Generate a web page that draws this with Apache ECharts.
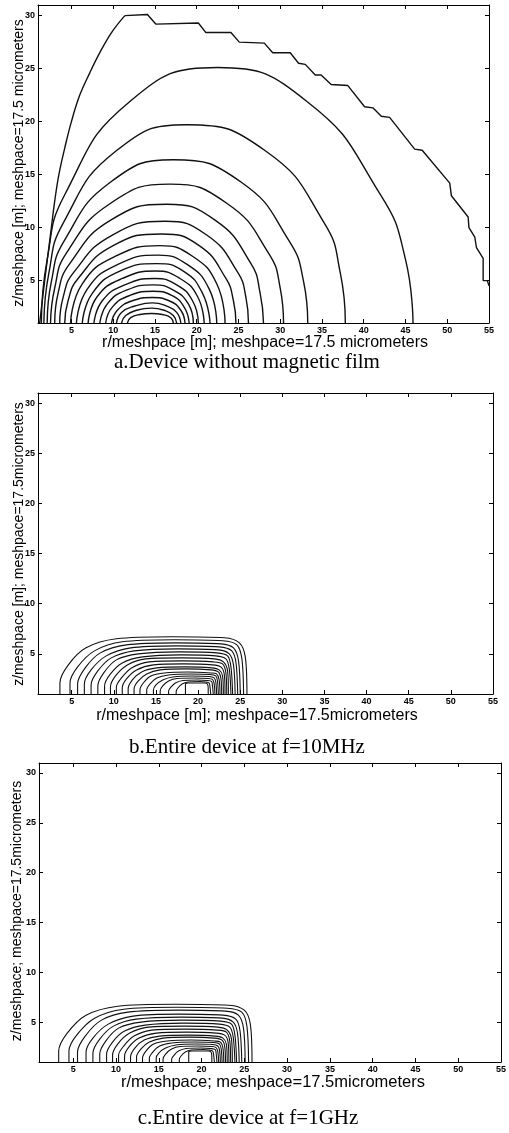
<!DOCTYPE html>
<html>
<head>
<meta charset="utf-8">
<script src="https://cdn.jsdelivr.net/npm/echarts@6/dist/echarts.min.js"></script>
<style>
  html, body { margin: 0; background: #fff; }
  #main { width: 509px; height: 1133px; }
</style>
</head>
<body>
<div id="main"></div>
<script>
// tick values shared by the three panels
var rTicks = [5, 10, 15, 20, 25, 30, 35, 40, 45, 50, 55];
var zTicks = [5, 10, 15, 20, 25, 30];

// a. device without magnetic film: outer line = smooth rise + staircase
var outerRiseA = [[1.2,1],[1.5,3],[1.8,5],[2.2,7.5],[2.6,10],[3.0,12.5],[3.5,15],[4.2,17.5],[5.0,20],[6.0,22.5],[7.2,24.6],[8.4,26.5],[9.8,28.4],[11.4,30]];
var outerStairA = [[11.4,30],[14.1,30.1],[15.1,29.2],[20.2,29.3],[21.1,28.4],[24.1,28.4],[25.1,27.5],[28.1,27.4],[29.1,26.5],[31.2,26.5],[32.2,25.5],[33.0,25.4],
  [34.2,24.4],[34.9,24.4],[36.1,23.5],[38.1,23.4],[40.1,21.4],[41.1,21.3],[42.1,20.5],[43.1,20.4],[46.1,17.4],[47.0,17.3],[50.3,14.2],
  [50.5,13.0],[52.5,11.0],[52.6,10.0],[53.3,9.1],[53.5,8.1],[54.3,7.1],[54.3,5.0],[54.8,5.0],[55,4.5]];

// inner contour lines of a, outer first
var contoursA = [
  [[1.4,1],[2.1,7.0],[4.2,13.1],[12.0,21.9],[22.5,25.1],[33.2,21.9],[42.0,13.1],[45.0,7.0],[45.9,1]],
  [[1.7,1],[2.3,5.7],[4.0,10.4],[10.3,17.2],[18.8,19.7],[28.3,17.2],[35.3,10.4],[37.2,5.7],[37.8,1]],
  [[2.1,1],[2.6,4.9],[4.1,8.7],[9.7,14.3],[17.2,16.4],[25.3,14.3],[31.1,8.7],[32.8,4.9],[33.3,1]],
  [[2.5,1],[3.0,4.3],[4.4,7.6],[9.7,12.3],[16.8,14.1],[23.6,12.3],[28.6,7.6],[30.0,4.3],[30.4,1]],
  [[3.0,1],[3.4,3.8],[4.8,6.6],[9.7,10.7],[16.4,12.2],[22.2,10.7],[26.5,6.6],[27.6,3.8],[28.0,1]],
  [[3.6,1],[4.0,3.4],[5.3,5.8],[9.9,9.3],[16.2,10.6],[21.2,9.3],[24.9,5.8],[25.9,3.4],[26.2,1]],
  [[4.2,1],[4.6,3.1],[5.8,5.2],[10.0,8.3],[15.8,9.4],[20.3,8.3],[23.5,5.2],[24.4,3.1],[24.7,1]],
  [[4.9,1],[6.3,4.7],[10.3,7.3],[15.6,8.3],[19.5,7.3],[22.4,4.7],[23.4,1]],
  [[5.6,1],[6.9,4.2],[10.5,6.5],[15.4,7.4],[18.9,6.5],[21.5,4.2],[22.4,1]],
  [[6.3,1],[7.5,3.8],[10.8,5.9],[15.2,6.6],[18.4,5.9],[20.7,3.8],[21.6,1]],
  [[7.0,1],[8.1,3.5],[11.1,5.2],[15.1,5.9],[18.0,5.2],[20.1,3.5],[20.9,1]],
  [[7.7,1],[8.7,3.1],[11.4,4.6],[15.0,5.2],[17.6,4.6],[19.5,3.1],[20.2,1]],
  [[8.4,1],[9.3,2.8],[11.6,4.1],[14.8,4.6],[17.2,4.1],[19.0,2.8],[19.6,1]],
  [[9.1,1],[9.9,2.5],[12.0,3.6],[14.8,4.0],[17.0,3.6],[18.5,2.5],[19.1,1]],
  [[9.8,1],[10.5,2.2],[12.3,3.1],[14.7,3.4],[16.7,3.1],[18.1,2.2],[18.6,1]],
  [[10.4,1],[11.0,2.0],[12.6,2.6],[14.7,2.9],[16.4,2.6],[17.6,2.0],[18.1,1]],
  [[11.0,1],[11.5,1.7],[12.8,2.2],[14.6,2.4],[16.1,2.2],[17.2,1.7],[17.6,1]],
  [[11.7,1],[12.1,1.5],[13.2,1.8],[14.6,1.9],[15.9,1.8],[16.9,1.5],[17.2,1]]
];

// b. entire device at f=10MHz
var contoursB = [
  [[3.6,1],[3.6,2.1],[4.6,3.9],[6.7,5.6],[10.3,6.5],[16.9,6.7],[23.1,6.6],[24.9,6.1],[25.6,4.7],[25.8,1]],
  [[4.8,1],[4.8,2.1],[5.7,3.7],[7.7,5.3],[11.0,6.2],[17.2,6.4],[22.9,6.3],[24.6,5.9],[25.2,4.5],[25.4,1]],
  [[5.7,1],[5.7,2.0],[6.6,3.6],[8.4,5.1],[11.5,5.9],[17.3,6.1],[22.7,6.0],[24.2,5.6],[24.8,4.3],[25.0,1]],
  [[6.5,1],[6.5,2.0],[7.3,3.4],[9.1,4.8],[12.0,5.6],[17.4,5.8],[22.5,5.7],[24.0,5.3],[24.5,4.1],[24.7,1]],
  [[7.3,1],[7.3,1.9],[8.1,3.3],[9.7,4.6],[12.4,5.3],[17.6,5.5],[22.4,5.4],[23.7,5.0],[24.2,3.9],[24.4,1]],
  [[8.1,1],[8.1,1.8],[8.8,3.1],[10.3,4.4],[12.9,5.0],[17.7,5.2],[22.2,5.1],[23.5,4.8],[23.9,3.7],[24.1,1]],
  [[8.9,1],[8.9,1.8],[9.6,3.0],[11.0,4.1],[13.4,4.7],[17.9,4.9],[22.1,4.8],[23.3,4.5],[23.7,3.5],[23.9,1]],
  [[9.6,1],[9.6,1.7],[10.2,2.8],[11.6,3.9],[13.8,4.5],[18.0,4.6],[21.9,4.5],[23.0,4.2],[23.5,3.3],[23.6,1]],
  [[10.3,1],[10.3,1.7],[10.9,2.6],[12.1,3.6],[14.2,4.2],[18.2,4.3],[21.8,4.2],[22.9,4.0],[23.3,3.1],[23.4,1]],
  [[11.0,1],[11.0,1.6],[11.5,2.5],[12.7,3.4],[14.7,3.9],[18.3,4.0],[21.7,3.9],[22.7,3.7],[23.1,3.0],[23.2,1]],
  [[11.7,1],[11.7,1.5],[12.2,2.4],[13.3,3.2],[15.1,3.6],[18.5,3.7],[21.6,3.6],[22.5,3.4],[22.9,2.8],[23.0,1]],
  [[12.4,1],[12.4,1.5],[12.9,2.3],[13.9,3.0],[15.5,3.4],[18.6,3.5],[21.5,3.4],[22.4,3.2],[22.7,2.6],[22.8,1]],
  [[13.1,1],[13.1,1.4],[13.5,2.1],[14.4,2.8],[16.0,3.1],[18.8,3.2],[21.5,3.1],[22.2,3.0],[22.5,2.4],[22.6,1]],
  [[13.9,1],[13.9,1.4],[14.3,2.0],[15.1,2.6],[16.5,2.9],[19.1,3.0],[21.4,2.95],[22.1,2.8],[22.3,2.3],[22.4,1]],
  [[14.7,1],[14.7,1.4],[15.0,1.9],[15.8,2.4],[17.0,2.7],[19.3,2.8],[21.3,2.75],[21.9,2.6],[22.1,2.2],[22.2,1]],
  [[15.5,1],[15.5,1.3],[15.8,1.8],[16.5,2.3],[17.5,2.55],[19.6,2.6],[21.2,2.55],[21.7,2.45],[21.9,2.05],[22.0,1]],
  [[16.5,1],[16.5,1.3],[16.8,1.7],[17.3,2.1],[18.2,2.35],[19.9,2.4],[21.1,2.35],[21.6,2.25],[21.7,1.9],[21.8,1]],
  [[17.4,1],[17.4,1.25],[17.6,1.6],[18.1,2.0],[18.8,2.2],[20.2,2.25],[20.9,2.2],[21.3,2.1],[21.4,1.8],[21.5,1]],
  [[18.5,1],[18.5,2.0],[18.8,2.1],[20.8,2.1],[21.1,2.0],[21.2,1.6],[21.2,1]]
];

// c. entire device at f=1GHz: outer three lines differ a little, the rest read the same as b
var contoursC = [
  [[3.3,1],[3.3,2.1],[4.3,3.9],[6.5,5.7],[10.2,6.6],[16.9,6.8],[23.2,6.7],[25.0,6.2],[25.7,4.8],[25.9,1]],
  [[4.5,1],[4.5,2.1],[5.4,3.7],[7.5,5.4],[10.9,6.3],[17.2,6.5],[23.0,6.4],[24.7,6.0],[25.3,4.6],[25.5,1]],
  [[5.5,1],[5.5,2.0],[6.4,3.6],[8.3,5.2],[11.4,6.0],[17.3,6.2],[22.8,6.1],[24.3,5.7],[24.9,4.4],[25.1,1]]
].concat(contoursB.slice(3));

var panels = [
  { grid: { left: 38, top: 5, width: 451, height: 318 }, lines: contoursA, width: 1.4, smooth: 0.5 },
  { grid: { left: 38, top: 393, width: 455, height: 301 }, lines: contoursB, width: 1.1, smooth: 0.3 },
  { grid: { left: 39, top: 763, width: 466, height: 299 }, lines: contoursC, width: 1.1, smooth: 0.3 }
];

var labelFont = { fontFamily: 'Liberation Sans', fontWeight: 'bold', fontSize: 9, color: '#000' };
var black = { color: '#000', width: 1 };

function lineSeries(i, pts, width, smooth) {
  return {
    type: 'line', xAxisIndex: 2 * i, yAxisIndex: 2 * i,
    data: pts, showSymbol: false, symbol: 'none', smooth: smooth,
    lineStyle: { color: '#111', width: width },
    silent: true, clip: true, z: 3
  };
}

var grids = [], xAxes = [], yAxes = [], series = [];
panels.forEach(function (p, i) {
  grids.push(p.grid);
  ['bottom', 'top'].forEach(function (pos) {
    xAxes.push({
      type: 'value', gridIndex: i, min: 1, max: 55, position: pos,
      axisLine: { show: true, onZero: false, lineStyle: black },
      axisTick: { show: true, inside: true, length: 4, customValues: rTicks, lineStyle: black },
      axisLabel: pos === 'bottom' ? Object.assign({ customValues: rTicks, margin: 3 }, labelFont) : { show: false },
      splitLine: { show: false }
    });
  });
  ['left', 'right'].forEach(function (pos) {
    yAxes.push({
      type: 'value', gridIndex: i, min: 1, max: 31, position: pos,
      axisLine: { show: true, onZero: false, lineStyle: black },
      axisTick: { show: true, inside: true, length: 4, customValues: zTicks, lineStyle: black },
      axisLabel: pos === 'left' ? Object.assign({ customValues: zTicks, margin: 3 }, labelFont) : { show: false },
      splitLine: { show: false }
    });
  });
  p.lines.forEach(function (pts) {
    series.push(lineSeries(i, pts, p.width, p.smooth));
  });
});
series.push(lineSeries(0, outerRiseA, 1.4, 0.4));
series.push(lineSeries(0, outerStairA, 1.4, false));

function txt(x, y, s, size, family, rot) {
  return {
    type: 'text', x: x, y: y, rotation: rot || 0,
    style: {
      text: s, fontSize: size, fontFamily: family, fill: '#000',
      textAlign: 'center', textVerticalAlign: 'middle'
    }
  };
}
var sans = 'Liberation Sans', serif = 'Liberation Serif', up = Math.PI / 2;

var chart = echarts.init(document.getElementById('main'));
chart.setOption({
  animation: false,
  backgroundColor: '#fff',
  grid: grids,
  xAxis: xAxes,
  yAxis: yAxes,
  series: series,
  graphic: [
    txt(19, 163, 'z/meshpace [m]; meshpace=17.5 micrometers', 14, sans, up),
    txt(265, 343, 'r/meshpace [m]; meshpace=17.5 micrometers', 16, sans),
    txt(247, 362, 'a.Device without magnetic film', 21, serif),
    txt(19, 544, 'z/meshpace [m]; meshpace=17.5micrometers', 14, sans, up),
    txt(257, 716, 'r/meshpace [m]; meshpace=17.5micrometers', 16, sans),
    txt(247, 747, 'b.Entire device at f=10MHz', 21, serif),
    txt(17, 911, 'z/meshpace; meshpace=17.5micrometers', 14, sans, up),
    txt(273, 1082, 'r/meshpace; meshpace=17.5micrometers', 16.5, sans),
    txt(248, 1118, 'c.Entire device at f=1GHz', 21, serif)
  ]
});
</script>
</body>
</html>
